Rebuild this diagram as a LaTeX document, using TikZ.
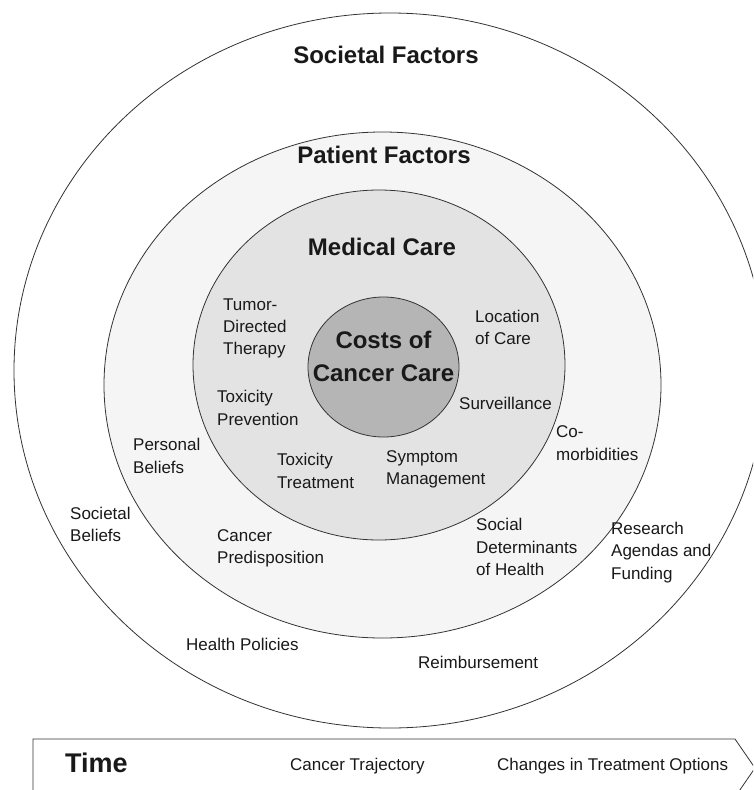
\documentclass[tikz,border=0pt]{standalone}
\usepackage{fontspec}
\setmainfont{Liberation Sans}
\begin{document}
\begin{tikzpicture}[x=1pt,y=-1pt,
  ring/.style={draw=black!80,line width=0.8pt},
  lbl/.style={anchor=west,inner sep=0pt,align=left,font=\fontsize{17}{22.3}\selectfont,text=black!90},
  ttl/.style={anchor=center,inner sep=0pt,align=center,font=\fontsize{24}{33}\selectfont\bfseries,text=black!90}]
\useasboundingbox (0,0) rectangle (753,790);
\clip (0,0) rectangle (753,790);
% rings
\fill[white] (0,0) rectangle (753,790);
\draw[ring,fill=white] (390,370.5) ellipse [x radius=376pt,y radius=357.5pt];
\draw[ring,fill=black!4] (382.5,385) ellipse [x radius=278.5pt,y radius=253pt];
\draw[ring,fill=black!11] (379,365) ellipse [x radius=186pt,y radius=175pt];
\draw[ring,fill=black!29] (383.5,367) ellipse [x radius=75.5pt,y radius=70pt];
% titles
\node[ttl] (soc) at (386,55) {Societal Factors};
\node[ttl] (pat) at (384,155) {Patient Factors};
\node[ttl] (med) at (382,247) {Medical Care};
\node[ttl] (cost) at (383.5,356.5) {Costs of\\Cancer Care};
% medical care items
\node[lbl] (tumor) at (223,328.5) {Tumor-\\Directed\\Therapy};
\node[lbl] (loc) at (475,327.5) {Location\\of Care};
\node[lbl] (toxp) at (217,408) {Toxicity\\Prevention};
\node[lbl] (surv) at (459,403) {Surveillance};
\node[lbl] (toxt) at (277,471) {Toxicity\\Treatment};
\node[lbl] (symp) at (386,469.5) {Symptom\\Management};
% patient items
\node[lbl] (como) at (556,443) {Co-\\morbidities};
\node[lbl] (pers) at (133,456) {Personal\\Beliefs};
\node[lbl] (pred) at (217,548) {Cancer\\Predisposition};
\node[lbl] (sdoh) at (476,547) {Social\\Determinants\\of Health};
% societal items
\node[lbl] (socb) at (70,524.5) {Societal\\Beliefs};
\node[lbl] (res) at (611,552.5) {Research\\Agendas and\\Funding};
\node[lbl] (hp) at (186,644) {Health Policies};
\node[lbl] (reim) at (418,662) {Reimbursement};
% time arrow
\draw[ring,fill=white] (33,800) -- (33,739) -- (735,739) -- (755,768) -- (735,797) -- (735,800);
\node[anchor=west,inner sep=0pt,font=\fontsize{27}{30}\selectfont\bfseries,text=black!90] (time) at (65,763) {Time};
\node[lbl] (traj) at (290,766) {Cancer Trajectory};
\node[lbl] (chg) at (497,766) {Changes in Treatment Options};
\end{tikzpicture}
\end{document}
